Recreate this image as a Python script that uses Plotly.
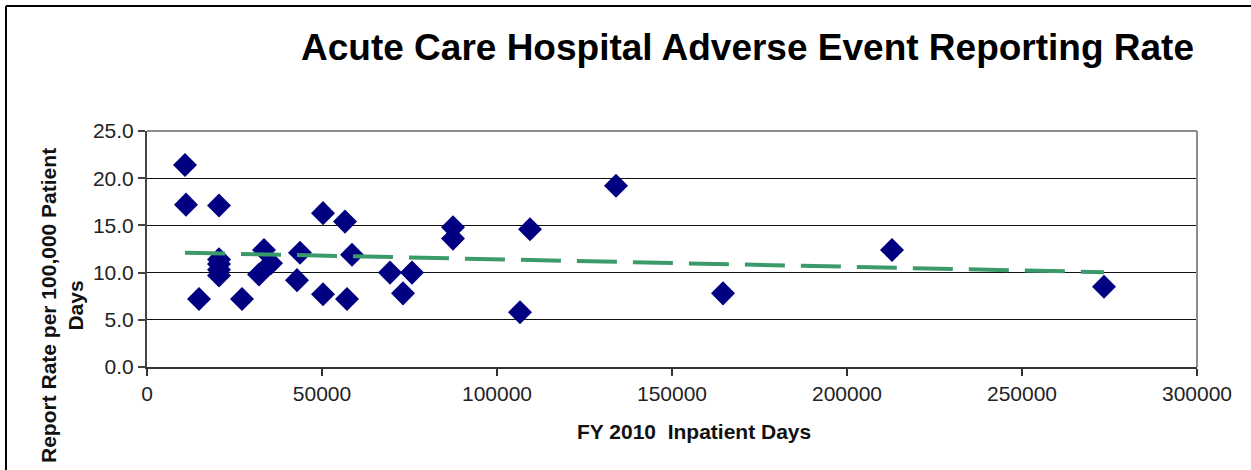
import numpy as np
import plotly.graph_objects as go

# FY 2010 inpatient days per hospital
inpatient_days = [10857, 11143, 20571, 14857,
                  20571, 20571, 20571, 20571,
                  27143, 33429, 35429, 32000,
                  42857, 43714, 50286, 50286, 56571, 57143, 58571,
                  69429, 75714, 73143,
                  87429, 87429, 106571, 109429, 134000,
                  164571, 212857, 273429]
# Adverse event report rate per 100,000 patient days
report_rate = [21.4, 17.2, 17.1, 7.2,
               11.4, 10.9, 10.3, 9.7,
               7.2, 12.4, 11.0, 9.8,
               9.2, 12.1, 16.3, 7.7, 15.4, 7.2, 11.9,
               10.0, 10.0, 7.8,
               14.8, 13.6, 5.8, 14.6, 19.2,
               7.8, 12.4, 8.5]

title_text = "Acute Care Hospital Adverse Event Reporting Rate"
x_title = "FY 2010  Inpatient Days"
y_title = "Report Rate per 100,000 Patient<br>Days"

# linear trendline from the data
slope, intercept = np.polyfit(inpatient_days, report_rate, 1)
trend_x = [min(inpatient_days), max(inpatient_days)]
trend_y = [slope * v + intercept for v in trend_x]

W, H = 1251, 470
L, R, T, B = 147, 54, 131, 103
pw, ph = W - L - R, H - T - B

def px_x(p):
    return (p - L) / pw

def px_y(p):
    return (H - B - p) / ph

fig = go.Figure()
fig.add_trace(go.Scatter(
    x=inpatient_days, y=report_rate, mode="markers",
    marker=dict(symbol="diamond", size=18.5, color="#000080", line=dict(width=0)),
    showlegend=False, hoverinfo="x+y"))
fig.add_trace(go.Scatter(
    x=trend_x, y=trend_y, mode="lines",
    line=dict(color="#3a9a6a", width=4, dash="40px,16px"),
    showlegend=False, hoverinfo="skip"))

font = "Liberation Sans, Arial, sans-serif"
fig.update_layout(
    width=W, height=H,
    margin=dict(l=L, r=R, t=T, b=B),
    paper_bgcolor="white", plot_bgcolor="white",
    font=dict(family=font, color="#222", size=21),
    xaxis=dict(range=[0, 300000], dtick=50000, tick0=0, tickformat="d",
               showgrid=False, zeroline=False,
               showline=True, linecolor="#333", linewidth=2,
               ticks="outside", ticklen=7, tickcolor="#333", tickwidth=1.5,
               tickfont=dict(size=21, color="#222")),
    yaxis=dict(range=[0, 25], dtick=5, tick0=0, tickformat=".1f",
               showgrid=True, gridcolor="#111", gridwidth=1.3, zeroline=False,
               showline=True, linecolor="#444", linewidth=2,
               ticks="outside", ticklen=7, tickcolor="#444", tickwidth=1.5,
               tickfont=dict(size=21, color="#222")),
    annotations=[
        dict(text="<b>" + title_text + "</b>", xref="paper", yref="paper",
             x=px_x(747), y=px_y(47), xanchor="center", yanchor="middle",
             showarrow=False, font=dict(size=37, color="black", family=font)),
        dict(text="<b>" + x_title + "</b>", xref="paper", yref="paper",
             x=px_x(694), y=px_y(431), xanchor="center", yanchor="middle",
             showarrow=False, font=dict(size=21, color="#111", family=font)),
        dict(text="<b>" + y_title + "</b>", xref="paper", yref="paper",
             x=px_x(62), y=px_y(306), xanchor="center", yanchor="middle",
             textangle=-90, showarrow=False,
             font=dict(size=21, color="#111", family=font)),
    ],
    shapes=[
        # plot-area top and right border (gray)
        dict(type="line", xref="paper", yref="paper", x0=0, x1=1, y0=1, y1=1,
             line=dict(color="#8c8c8c", width=2), layer="above"),
        dict(type="line", xref="paper", yref="paper", x0=1, x1=1, y0=0, y1=1,
             line=dict(color="#8c8c8c", width=2), layer="above"),
        # outer chart frame (top and left)
        dict(type="line", xref="paper", yref="paper",
             x0=px_x(6), x1=px_x(1260), y0=px_y(6), y1=px_y(6),
             line=dict(color="black", width=2)),
        dict(type="line", xref="paper", yref="paper",
             x0=px_x(6), x1=px_x(6), y0=px_y(6), y1=px_y(480),
             line=dict(color="black", width=2)),
    ],
)

fig.write_html("out.html",
               config={"displayModeBar": False},
               post_script="document.body.style.margin='0';document.body.style.overflow='hidden';")
